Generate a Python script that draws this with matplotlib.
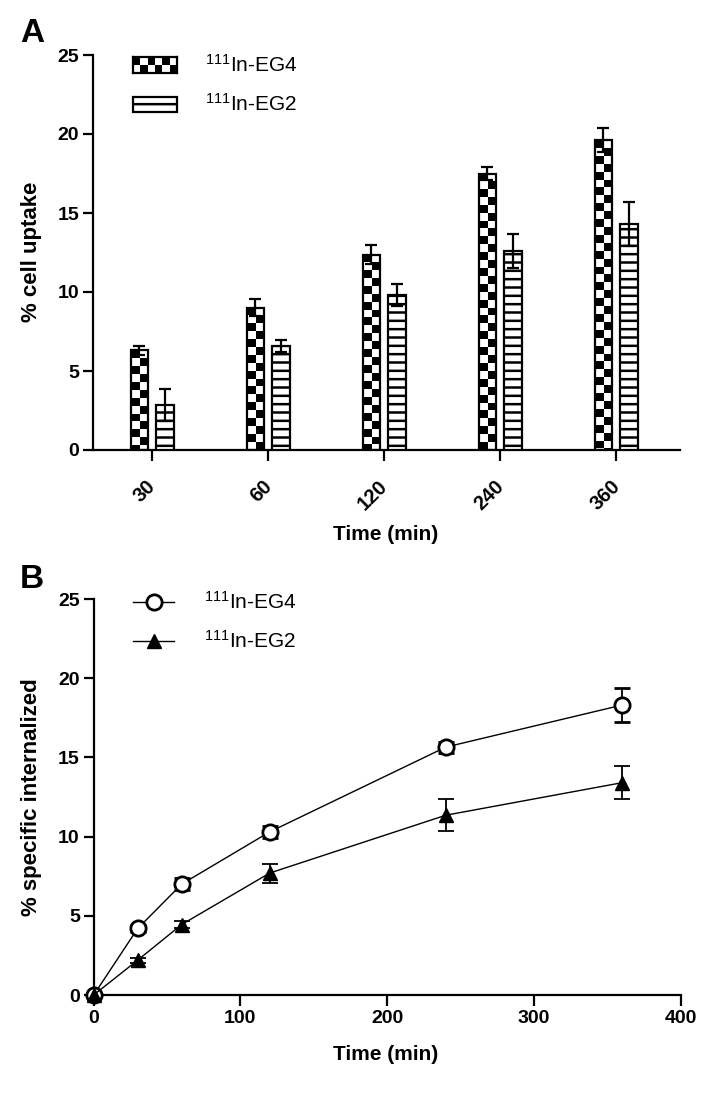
import numpy as np
import matplotlib
matplotlib.use('Agg')
import matplotlib.pyplot as plt
from matplotlib.patches import Rectangle
from matplotlib.lines import Line2D
from matplotlib.transforms import ScaledTranslation

plt.rcParams['font.family'] = ['Liberation Sans', 'DejaVu Sans']
plt.rcParams['mathtext.fontset'] = 'custom'
plt.rcParams['mathtext.rm'] = 'Liberation Sans'
plt.rcParams['hatch.linewidth'] = 1.8

# panel A: % cell uptake (bars)
times_a = ['30', '60', '120', '240', '360']
eg4_uptake = [6.3, 9.0, 12.35, 17.5, 19.6]
eg4_uptake_err = [0.27, 0.55, 0.6, 0.42, 0.75]
eg2_uptake = [2.85, 6.6, 9.8, 12.6, 14.3]
eg2_uptake_err = [1.0, 0.38, 0.7, 1.05, 1.4]

# panel B: % specific internalized (lines)
times_b = [0, 30, 60, 120, 240, 360]
eg4_int = [0, 4.2, 7.0, 10.3, 15.65, 18.3]
eg4_int_err = [0, 0.2, 0.4, 0.4, 0.35, 1.05]
eg2_int = [0, 2.2, 4.45, 7.7, 11.35, 13.4]
eg2_int_err = [0, 0.15, 0.2, 0.6, 1.0, 1.05]

label_eg4 = r'$\mathregular{^{111}}$In-EG4'
label_eg2 = r'$\mathregular{^{111}}$In-EG2'

W, H = 717, 1093
fig = plt.figure(figsize=(W / 100, H / 100), dpi=100)


def fx(x):
    return x / W


def fy(y):
    return 1 - y / H


def checker(rows, cols):
    return np.add.outer(np.arange(rows), np.arange(cols)) % 2


# ---------------- panel A ----------------
axA = fig.add_axes([fx(93), fy(450), fx(680) - fx(93), fy(55) - fy(450)])
x = np.arange(len(times_a))
w = 0.15
off = 0.11

bars4 = axA.bar(x - off, eg4_uptake, w, facecolor='none', edgecolor='black',
                linewidth=1.6, zorder=3)
sq = 0.5  # checker square height in y units
for p in bars4:
    x0, bw, h = p.get_x(), p.get_width(), p.get_height()
    nrows = int(np.ceil(h / sq))
    im = axA.imshow(checker(nrows, 2)[::-1], cmap='gray', origin='lower',
                    extent=(x0, x0 + bw, h - nrows * sq, h), aspect='auto',
                    interpolation='nearest', zorder=2)
    im.set_clip_path(p)

axA.bar(x + off, eg2_uptake, w, facecolor='white', edgecolor='black',
        linewidth=1.6, hatch='--', zorder=3)
axA.errorbar(x - off, eg4_uptake, yerr=eg4_uptake_err, fmt='none', ecolor='black',
             elinewidth=1.6, capsize=4, capthick=1.6, zorder=4)
axA.errorbar(x + off, eg2_uptake, yerr=eg2_uptake_err, fmt='none', ecolor='black',
             elinewidth=1.6, capsize=4, capthick=1.6, zorder=4)

axA.set_xlim(-0.51, 4.55)
axA.set_ylim(0, 25)
axA.set_yticks([0, 5, 10, 15, 20, 25])
axA.set_xticks(x)
axA.set_xticklabels(times_a, rotation=45, ha='right', rotation_mode='anchor')

# ---------------- panel B ----------------
axB = fig.add_axes([fx(93.7), fy(995), fx(680.5) - fx(93.7), fy(599) - fy(995)])
axB.errorbar(times_b, eg4_int, yerr=eg4_int_err, color='black', lw=1.0,
             marker='o', ms=11, mfc='white', mec='black', mew=2.0,
             ecolor='black', elinewidth=1.3, capsize=6, capthick=1.3, zorder=3)
axB.errorbar(times_b, eg2_int, yerr=eg2_int_err, color='black', lw=1.0,
             marker='^', ms=10, mfc='black', mec='black',
             ecolor='black', elinewidth=1.3, capsize=6, capthick=1.3, zorder=3)
axB.set_xlim(0, 400)
axB.set_ylim(0, 25)
axB.set_xticks([0, 100, 200, 300, 400])
axB.set_yticks([0, 5, 10, 15, 20, 25])

for ax in (axA, axB):
    ax.spines['top'].set_visible(False)
    ax.spines['right'].set_visible(False)
    ax.spines['left'].set_linewidth(1.6)
    ax.spines['bottom'].set_linewidth(1.6)
    ax.tick_params(axis='both', direction='out', width=1.6, labelsize=14, pad=3)
    ax.tick_params(axis='x', length=8)
    ax.tick_params(axis='y', length=7)
    for t in ax.get_xticklabels() + ax.get_yticklabels():
        t.set_fontweight('bold')
axA.tick_params(axis='x', pad=11, labelsize=14.5)
# rotated labels sit a little left of the tick in the original
shift = ScaledTranslation(-0.06, 0, fig.dpi_scale_trans)
for t in axA.get_xticklabels():
    t.set_transform(t.get_transform() + shift)
for c in axB.get_children():
    if isinstance(c, Line2D):
        c.set_clip_on(False)

# axis labels
fig.text(fx(386), fy(534), 'Time (min)', fontsize=15, fontweight='bold',
         ha='center', va='center')
fig.text(fx(32), fy(252), '% cell uptake', fontsize=16, fontweight='bold',
         ha='center', va='center', rotation=90)
fig.text(fx(386), fy(1055), 'Time (min)', fontsize=15, fontweight='bold',
         ha='center', va='center')
fig.text(fx(32), fy(797), '% specific internalized', fontsize=16, fontweight='bold',
         ha='center', va='center', rotation=90)

# panel letters
fig.text(fx(20), fy(34), 'A', fontsize=24, fontweight='bold', va='center')
fig.text(fx(20), fy(580), 'B', fontsize=24, fontweight='bold', va='center')

# legend A (drawn by hand, checker patch has no legend handler)
legA = fig.add_axes([fx(133), fy(73), fx(177) - fx(133), fy(57) - fy(73)])
legA.imshow(checker(2, 6), cmap='gray', aspect='auto', interpolation='nearest')
legA.set_xticks([])
legA.set_yticks([])
for s in legA.spines.values():
    s.set_linewidth(1.6)
fig.add_artist(Rectangle((fx(133), fy(112)), fx(177) - fx(133), fy(97) - fy(112),
                         transform=fig.transFigure, facecolor='white',
                         edgecolor='black', linewidth=1.6, hatch='--'))
fig.text(fx(205), fy(65), label_eg4, fontsize=15, va='center')
fig.text(fx(205), fy(104), label_eg2, fontsize=15, va='center')

# legend B
for yy, mk, mfc, ms, lab in [(602, 'o', 'white', 11, label_eg4),
                             (641, '^', 'black', 10, label_eg2)]:
    fig.add_artist(Line2D([fx(133), fx(153.5), fx(174)], [fy(yy)] * 3,
                          transform=fig.transFigure, color='black', lw=1.0,
                          marker=mk, markevery=[1], ms=ms, mfc=mfc, mec='black',
                          mew=2.0 if mk == 'o' else 1.0))
    fig.text(fx(204), fy(yy), lab, fontsize=15, va='center')

fig.savefig('out.png', dpi=100)
